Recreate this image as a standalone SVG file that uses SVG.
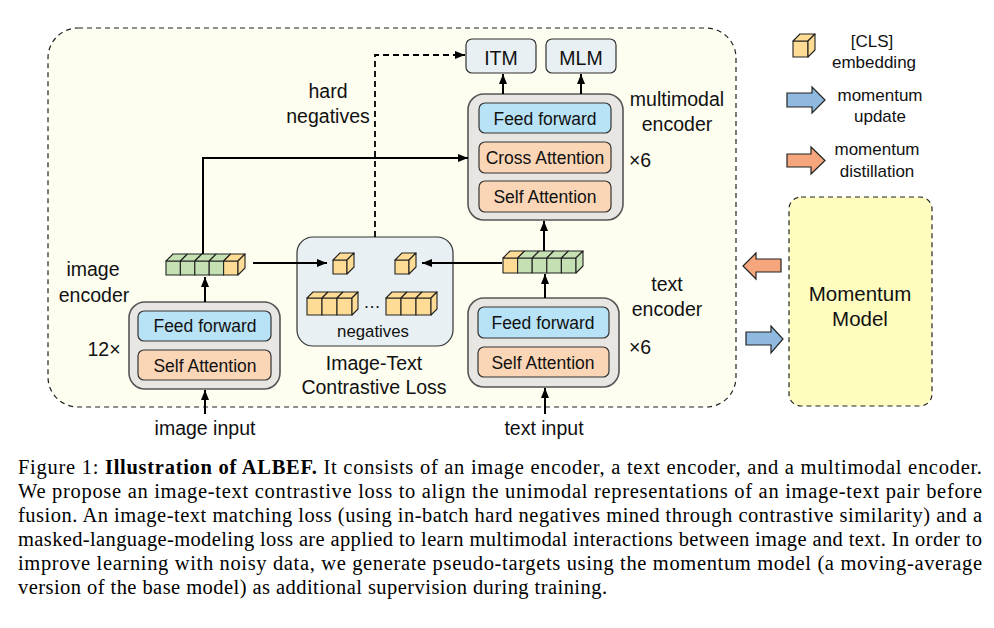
<svg xmlns="http://www.w3.org/2000/svg" width="994" height="628" viewBox="0 0 994 628">
<defs>
<marker id="ah" markerUnits="userSpaceOnUse" markerWidth="10" markerHeight="8" refX="10" refY="4" orient="auto"><path d="M0,0 L10,4 L0,8 z" fill="#000"/></marker>
<style>
.t{font-family:"Liberation Sans",Arial,sans-serif;fill:#111;text-anchor:middle}
.lbl{font-size:19.5px}
.box{font-size:17.5px}
.leg{font-size:17px}
.enc{fill:#e7e6e2;stroke:#555;stroke-width:1.6}
.ff{fill:#b8e2f5;stroke:#333;stroke-width:1.2}
.att{fill:#fbd6b6;stroke:#333;stroke-width:1.2}
.out{fill:#e8f0f3;stroke:#333;stroke-width:1.2}
.g{fill:#c5e0b3;stroke:#222;stroke-width:1.1;stroke-linejoin:round}
.y{fill:#fedc95;stroke:#222;stroke-width:1.1;stroke-linejoin:round}
.ln{fill:none;stroke:#000;stroke-width:2}
.dash{fill:none;stroke:#000;stroke-width:1.8;stroke-dasharray:6,4}
.cap{font-family:"Liberation Serif","Times New Roman",serif;font-size:20.5px;fill:#000}
.blue{fill:#8fb9de;stroke:#222;stroke-width:1.2}
.orng{fill:#f5a67c;stroke:#222;stroke-width:1.2}
</style>
</defs>

<g id="frame">
<rect x="48" y="28" width="688" height="379" rx="30" fill="#fdfdf0" stroke="#222" stroke-width="1.2" stroke-dasharray="5,4"/>
</g>

<g id="itm">
<rect class="out" x="466" y="39" width="70" height="34" rx="6"/>
<text class="t" x="501" y="65" font-size="19.5">ITM</text>
</g>
<g id="mlm">
<rect class="out" x="546" y="39" width="70" height="34" rx="6"/>
<text class="t" x="581" y="65" font-size="19.5">MLM</text>
</g>

<g id="multimodal-encoder">
<rect class="enc" x="468" y="94" width="155" height="126" rx="16"/>
<rect class="ff" x="479" y="103" width="132" height="30" rx="6"/>
<text class="t box" x="545" y="125">Feed forward</text>
<rect class="att" x="479" y="142" width="132" height="31" rx="6"/>
<text class="t box" x="545" y="164">Cross Attention</text>
<rect class="att" x="479" y="181" width="132" height="31" rx="6"/>
<text class="t box" x="545" y="203">Self Attention</text>
<text class="t lbl" x="677" y="106">multimodal</text>
<text class="t lbl" x="677" y="131">encoder</text>
<text class="t lbl" x="640" y="167">×6</text>
</g>

<g id="image-encoder">
<rect class="enc" x="129" y="302" width="151" height="87" rx="16"/>
<rect class="ff" x="138" y="311" width="133" height="30" rx="6"/>
<text class="t box" x="205" y="332">Feed forward</text>
<rect class="att" x="138" y="350" width="133" height="30" rx="6"/>
<text class="t box" x="205" y="372">Self Attention</text>
<text class="t lbl" x="93" y="276">image</text>
<text class="t lbl" x="94" y="302">encoder</text>
<text class="t lbl" x="104" y="356">12×</text>
<text class="t lbl" x="205" y="435">image input</text>
</g>

<g id="image-embedding">
<rect class="g" x="166" y="261" width="14.4" height="14"/>
<rect class="g" x="180.4" y="261" width="14.4" height="14"/>
<rect class="g" x="194.8" y="261" width="14.4" height="14"/>
<rect class="g" x="209.2" y="261" width="14.4" height="14"/>
<rect class="y" x="223.6" y="261" width="14.4" height="14"/>
<polygon class="g" points="166,261 173,254 187.4,254 180.4,261"/>
<polygon class="g" points="180.4,261 187.4,254 201.8,254 194.8,261"/>
<polygon class="g" points="194.8,261 201.8,254 216.2,254 209.2,261"/>
<polygon class="g" points="209.2,261 216.2,254 230.6,254 223.6,261"/>
<polygon class="y" points="223.6,261 230.6,254 245,254 238,261"/>
<polygon class="y" points="238,261 245,254 245,268 238,275"/>
</g>

<g id="text-encoder">
<rect class="enc" x="468" y="298" width="151" height="89" rx="16"/>
<rect class="ff" x="478" y="307" width="131" height="31" rx="6"/>
<text class="t box" x="543" y="329">Feed forward</text>
<rect class="att" x="478" y="347" width="131" height="30" rx="6"/>
<text class="t box" x="543" y="369">Self Attention</text>
<text class="t lbl" x="667" y="291">text</text>
<text class="t lbl" x="667" y="316">encoder</text>
<text class="t lbl" x="640" y="354">×6</text>
<text class="t lbl" x="544" y="435">text input</text>
</g>

<g id="text-embedding">
<rect class="y" x="503" y="258" width="14.6" height="15"/>
<rect class="g" x="517.6" y="258" width="14.6" height="15"/>
<rect class="g" x="532.2" y="258" width="14.6" height="15"/>
<rect class="g" x="546.8" y="258" width="14.6" height="15"/>
<rect class="g" x="561.4" y="258" width="14.6" height="15"/>
<polygon class="y" points="503,258 510,251 524.6,251 517.6,258"/>
<polygon class="g" points="517.6,258 524.6,251 539.2,251 532.2,258"/>
<polygon class="g" points="532.2,258 539.2,251 553.8,251 546.8,258"/>
<polygon class="g" points="546.8,258 553.8,251 568.4,251 561.4,258"/>
<polygon class="g" points="561.4,258 568.4,251 583,251 576,258"/>
<polygon class="g" points="576,258 583,251 583,266 576,273"/>
</g>

<g id="contrastive-loss">
<rect class="out" x="297" y="237" width="156" height="109" rx="16" stroke="#444" stroke-width="1.4"/>
<rect class="y" x="333" y="260" width="14" height="14"/>
<polygon class="y" points="333,260 340,253 354,253 347,260"/>
<polygon class="y" points="347,260 354,253 354,267 347,274"/>
<rect class="y" x="395" y="260" width="14" height="14"/>
<polygon class="y" points="395,260 402,253 416,253 409,260"/>
<polygon class="y" points="409,260 416,253 416,267 409,274"/>
<rect class="y" x="307" y="298" width="15" height="17"/>
<rect class="y" x="322" y="298" width="15" height="17"/>
<rect class="y" x="337" y="298" width="15" height="17"/>
<polygon class="y" points="307,298 313,292 328,292 322,298"/>
<polygon class="y" points="322,298 328,292 343,292 337,298"/>
<polygon class="y" points="337,298 343,292 358,292 352,298"/>
<polygon class="y" points="352,298 358,292 358,309 352,315"/>
<rect class="y" x="386" y="298" width="15" height="17"/>
<rect class="y" x="401" y="298" width="15" height="17"/>
<rect class="y" x="416" y="298" width="15" height="17"/>
<polygon class="y" points="386,298 392,292 407,292 401,298"/>
<polygon class="y" points="401,298 407,292 422,292 416,298"/>
<polygon class="y" points="416,298 422,292 437,292 431,298"/>
<polygon class="y" points="431,298 437,292 437,309 431,315"/>
<text class="t box" x="372" y="308">…</text>
<text class="t" x="373" y="337" font-size="16.8">negatives</text>
<text class="t lbl" x="374" y="370">Image-Text</text>
<text class="t lbl" x="374" y="394">Contrastive Loss</text>
</g>

<g id="hard-negatives-label">
<text class="t lbl" x="328" y="98">hard</text>
<text class="t lbl" x="328" y="123">negatives</text>
</g>

<g id="momentum-model">
<rect x="789" y="197" width="143" height="209" rx="12" fill="#fffcc0" stroke="#222" stroke-width="1.2" stroke-dasharray="5,4"/>
<text class="t" x="860" y="301" font-size="20.5">Momentum</text>
<text class="t" x="860" y="326" font-size="20.5">Model</text>
</g>

<g id="legend">
<rect class="y" x="793" y="41" width="15" height="16"/>
<polygon class="y" points="793,41 800,34 815,34 808,41"/>
<polygon class="y" points="808,41 815,34 815,50 808,57"/>
<text class="t leg" x="872" y="47">[CLS]</text>
<text class="t leg" x="874" y="68">embedding</text>
<polygon class="blue" points="787,93 812,93 812,87 825,100 812,113 812,107 787,107"/>
<text class="t leg" x="880" y="101">momentum</text>
<text class="t leg" x="880" y="122">update</text>
<polygon class="orng" points="787,154 811,154 811,147 825,160.5 811,174 811,167 787,167"/>
<text class="t leg" x="877" y="155">momentum</text>
<text class="t leg" x="877" y="177">distillation</text>
</g>

<g id="connectors">
<path class="ln" d="M205,414 L205,390" marker-end="url(#ah)"/>
<path class="ln" d="M205,302 L205,277" marker-end="url(#ah)"/>
<path class="ln" d="M253,263 L327,263" marker-end="url(#ah)"/>
<path class="ln" d="M203,254 L203,158 L468,158" marker-end="url(#ah)"/>
<path class="ln" d="M545,414 L545,388" marker-end="url(#ah)"/>
<path class="ln" d="M545,298 L545,274" marker-end="url(#ah)"/>
<path class="ln" d="M502,263 L422,263" marker-end="url(#ah)"/>
<path class="ln" d="M544,251 L544,221" marker-end="url(#ah)"/>
<path class="ln" d="M503,94 L503,74" marker-end="url(#ah)"/>
<path class="ln" d="M581,94 L581,74" marker-end="url(#ah)"/>
<path class="dash" d="M375,237 L375,55 L465,55" marker-end="url(#ah)"/>
<polygon class="orng" points="743,266 756,253 756,259 781,259 781,272 756,272 756,279"/>
<polygon class="blue" points="746,332 771,332 771,326 783,339 771,353 771,345 746,345"/>
</g>

<g id="caption">
<text class="cap" x="18" y="474" textLength="964">Figure 1: <tspan font-weight="bold">Illustration of ALBEF.</tspan> It consists of an image encoder, a text encoder, and a multimodal encoder.</text>
<text class="cap" x="18" y="498" textLength="964">We propose an image-text contrastive loss to align the unimodal representations of an image-text pair before</text>
<text class="cap" x="18" y="522" textLength="964">fusion. An image-text matching loss (using in-batch hard negatives mined through contrastive similarity) and a</text>
<text class="cap" x="18" y="546" textLength="964">masked-language-modeling loss are applied to learn multimodal interactions between image and text. In order to</text>
<text class="cap" x="18" y="570" textLength="964">improve learning with noisy data, we generate pseudo-targets using the momentum model (a moving-average</text>
<text class="cap" x="18" y="594" textLength="589">version of the base model) as additional supervision during training.</text>
</g>
</svg>
